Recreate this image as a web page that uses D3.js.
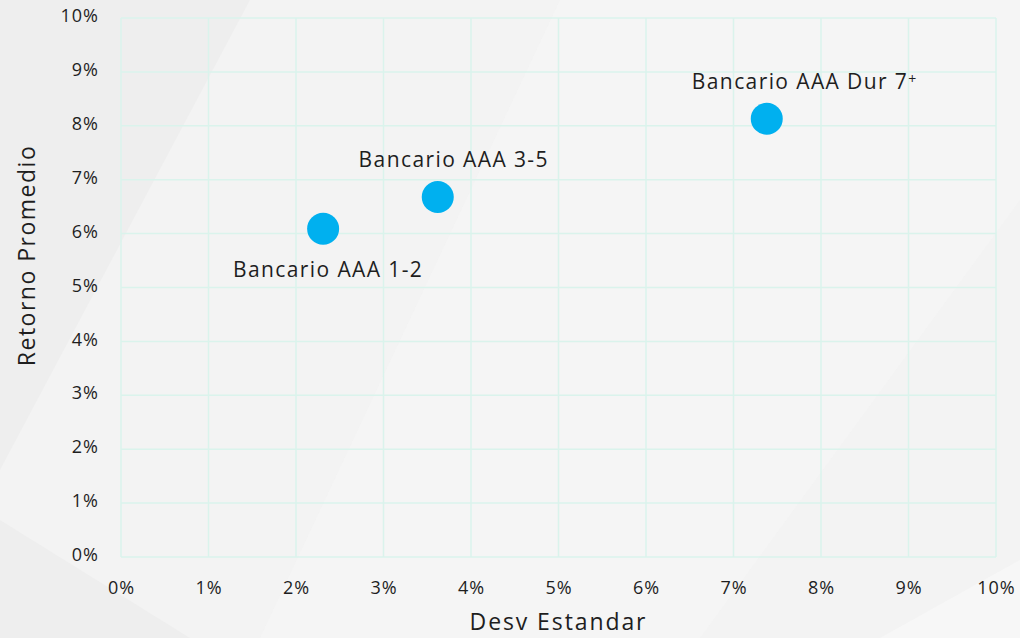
<!DOCTYPE html>
<html>
<head>
<meta charset="utf-8">
<script src="https://cdn.jsdelivr.net/npm/d3@7/dist/d3.min.js"></script>
<style>
  html, body { margin: 0; padding: 0; background: #efefef; }
  svg { display: block; }
  text { font-family: "Open Sans", Lato, sans-serif; fill: #1e1e1e; }
</style>
</head>
<body>
<svg id="chart" width="1020" height="638"></svg>
<script>
// Fund names, risk (std dev, %) and average return (%)
const funds = ["Bancario AAA 1-2", "Bancario AAA 3-5", "Bancario AAA Dur 7+"];
const desvEstandar = [2.31, 3.62, 7.38];
const retornoPromedio = [6.09, 6.68, 8.13];
const xTicks = [0, 1, 2, 3, 4, 5, 6, 7, 8, 9, 10];
const yTicks = [0, 1, 2, 3, 4, 5, 6, 7, 8, 9, 10];

const W = 1020, H = 638;
const plot = { left: 121, right: 996, top: 18, bottom: 557 };

const svg = d3.select("#chart");

// soft faceted background
const bg = svg.append("g");
bg.append("rect").attr("width", W).attr("height", H).attr("fill", "#eeeeee");
bg.append("polygon")
  .attr("points", "250,0 1020,0 1020,638 190,638 0,520 0,470")
  .attr("fill", "#f3f3f3");
bg.append("polygon")
  .attr("points", "560,0 1020,0 1020,200 700,638 260,638")
  .attr("fill", "#f5f5f5").attr("opacity", 0.8);
bg.append("polygon")
  .attr("points", "1020,560 1020,638 880,638")
  .attr("fill", "#f7f7f7");

const x = d3.scaleLinear().domain([0, 10]).range([plot.left, plot.right]);
const y = d3.scaleLinear().domain([0, 10]).range([plot.bottom, plot.top]);

const gridColor = "#daf3ec";

// vertical grid
svg.append("g")
  .selectAll("line").data(xTicks).join("line")
  .attr("x1", d => x(d)).attr("x2", d => x(d))
  .attr("y1", y(10)).attr("y2", y(0))
  .attr("stroke", gridColor).attr("stroke-width", 1.5);

// horizontal grid
svg.append("g")
  .selectAll("line").data(yTicks).join("line")
  .attr("x1", x(0)).attr("x2", x(10))
  .attr("y1", d => y(d)).attr("y2", d => y(d))
  .attr("stroke", gridColor).attr("stroke-width", 1.5);

// axes (labels only)
const xAxis = svg.append("g")
  .attr("transform", `translate(0,${y(0)})`)
  .call(d3.axisBottom(x).tickValues(xTicks).tickFormat(d => d + "%").tickSize(0).tickPadding(24));
xAxis.select(".domain").remove();
xAxis.selectAll("text")
  .style("font-size", "18px").style("letter-spacing", "1px")
  .attr("fill", "#1e1e1e");

const yAxis = svg.append("g")
  .attr("transform", `translate(${x(0)},0)`)
  .call(d3.axisLeft(y).tickValues(yTicks).tickFormat(d => d + "%").tickSize(0).tickPadding(22));
yAxis.select(".domain").remove();
yAxis.selectAll("text")
  .style("font-size", "18px").style("letter-spacing", "1px")
  .attr("fill", "#1e1e1e").attr("dy", "0.2em");

// axis titles
svg.append("text")
  .attr("x", x(5)).attr("y", 630)
  .attr("text-anchor", "middle")
  .style("font-size", "23px").style("letter-spacing", "1.9px")
  .text("Desv Estandar");

svg.append("text")
  .attr("transform", `translate(35,${(y(0) + y(10)) / 2 - 32}) rotate(-90)`)
  .attr("text-anchor", "middle")
  .style("font-size", "23px").style("letter-spacing", "1.5px")
  .text("Retorno Promedio");

// points
const pts = funds.map((name, i) => ({ name, sd: desvEstandar[i], ret: retornoPromedio[i] }));
svg.append("g")
  .selectAll("circle").data(pts).join("circle")
  .attr("cx", d => x(d.sd)).attr("cy", d => y(d.ret))
  .attr("r", 16)
  .attr("fill", "#00b0ef");

// point labels; a trailing "+" is set as a small raised sign
const labelOffsets = [
  { dx: 5, dy: 48 },
  { dx: 16, dy: -30 },
  { dx: 38, dy: -30 }
];
const labels = svg.append("g")
  .selectAll("text").data(pts).join("text")
  .attr("x", (d, i) => x(d.sd) + labelOffsets[i].dx)
  .attr("y", (d, i) => y(d.ret) + labelOffsets[i].dy)
  .attr("text-anchor", "middle")
  .style("font-size", "21px").style("letter-spacing", "1.4px");
labels.each(function(d) {
  const t = d3.select(this);
  if (d.name.endsWith("+")) {
    t.append("tspan").text(d.name.slice(0, -1));
    t.append("tspan").attr("dy", "-0.35em").style("font-size", "14px").text("+");
  } else {
    t.text(d.name);
  }
});
</script>
</body>
</html>
